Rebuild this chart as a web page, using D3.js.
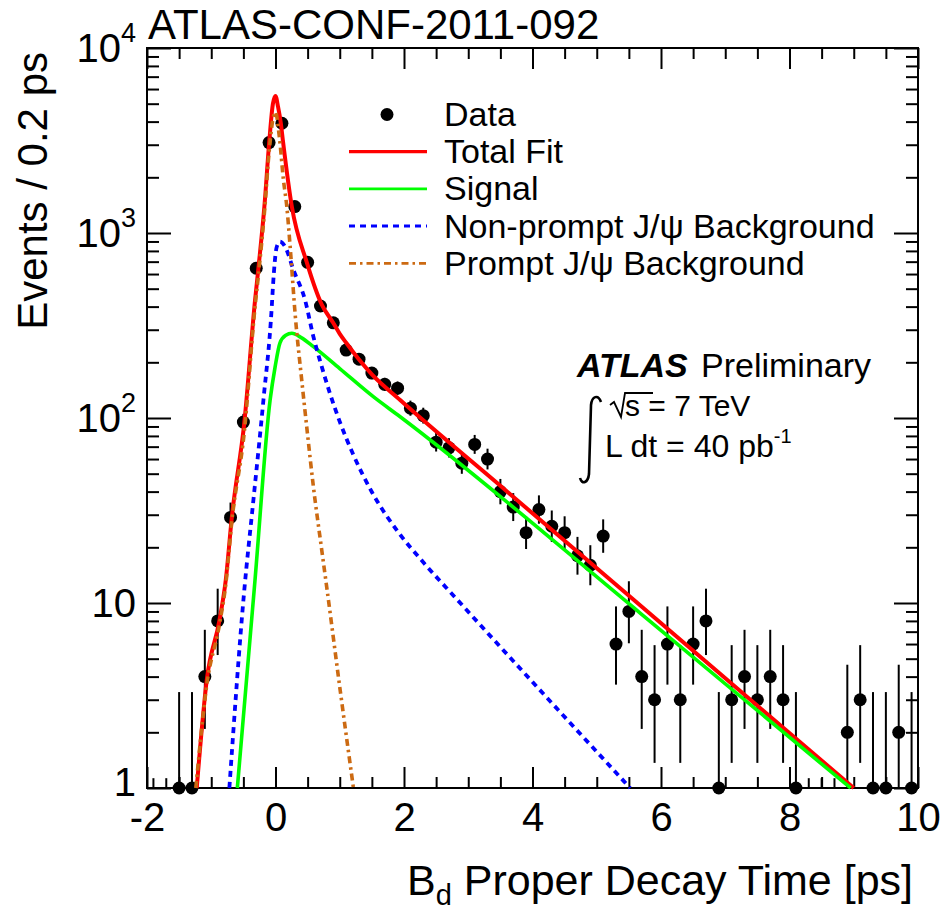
<!DOCTYPE html>
<html>
<head>
<meta charset="utf-8">
<script src="https://cdn.jsdelivr.net/npm/d3@7"></script>
<style>
  body { margin: 0; background: #fff; }
  svg { display: block; }
  text { font-family: "Liberation Sans", Arial, Helvetica, sans-serif; fill: #000; }
</style>
</head>
<body>
<svg id="chart" width="947" height="915"></svg>
<script>
// ---- Data: B_d proper decay time, events per 0.2 ps bin ----
const binCenters = [-1.5, -1.3, -1.1, -0.9, -0.7, -0.5, -0.3, -0.1, 0.1, 0.3, 0.5, 0.7, 0.9, 1.1, 1.3, 1.5, 1.7, 1.9,
  2.1, 2.3, 2.5, 2.7, 2.9, 3.1, 3.3, 3.5, 3.7, 3.9, 4.1, 4.3, 4.5, 4.7, 4.9, 5.1, 5.3, 5.5, 5.7, 5.9,
  6.1, 6.3, 6.5, 6.7, 6.9, 7.1, 7.3, 7.5, 7.7, 7.9, 8.1, 8.9, 9.1, 9.3, 9.5, 9.7, 9.9];
const counts = [1, 1, 4, 8, 29, 95, 645, 3080, 3920, 1390, 694, 403, 327, 233, 208, 175, 152, 145,
  113, 103, 74, 69, 57, 72, 60, 40, 33, 24, 32, 26, 24, 18, 16, 23, 6, 9, 4, 3,
  6, 3, 6, 8, 1, 3, 4, 3, 4, 3, 1, 2, 3, 1, 1, 2, 1];
// empty bins only show a short error stub above the axis
const emptyBins = [-1.9, -1.7, 8.3, 8.5, 8.7];
const emptyStubTop = 1.13;

// ---- Fit curves (time in ps, events / 0.2 ps) ----
const totalFitT = [-1.226, -1.07, -0.874, -0.774, -0.68, -0.484, -0.318, -0.266, -0.173, -0.095, -0.04, 0.0, 0.04, 0.083, 0.114, 0.254, 0.487, 0.72, 0.9, 1.0, 1.1, 1.3, 1.5, 1.94, 3.5, 5.52, 9.0];
const totalFitV = [1, 3.84, 8.0, 13.3, 29, 95.5, 434, 645, 1390, 3184, 5000, 5505, 4800, 3917, 3184, 1390, 694, 410, 326, 285, 255, 207, 172, 125, 43, 10.8, 1];

const signalT = [-0.594, -0.319, -0.084, -0.006, 0.07, 0.16, 0.254, 0.4, 0.59, 1.0, 1.527, 1.94, 5.68, 8.95];
const signalV = [1, 13.3, 125, 189, 255, 280, 287, 272, 243, 185, 130, 101.6, 8.8, 1];

const nonPromptT = [-0.718, -0.49, -0.344, -0.188, -0.058, -0.04, 0.02, 0.07, 0.15, 0.28, 0.46, 0.59, 0.7, 0.85, 1.0, 1.2, 1.5, 1.94, 2.3, 2.82, 5.52];
const nonPromptV = [1, 11.3, 36, 125, 400, 512, 843, 898, 843, 631, 434, 275, 200, 135, 95.5, 64.6, 39.8, 23.4, 16.6, 10.5, 1];

const promptT = [-1.24, -1.07, -0.874, -0.774, -0.68, -0.484, -0.318, -0.266, -0.173, -0.095, -0.03, 0.0, 0.06, 0.124, 0.176, 0.228, 0.306, 0.41, 0.49, 0.59, 0.72, 0.81, 1.006, 1.213];
const promptV = [1, 3.6, 7.6, 12.6, 27.5, 85, 400, 590, 1280, 2850, 4300, 4500, 3300, 1933, 1390, 843, 363, 158, 87, 42.5, 19.3, 11.3, 3.39, 1];

// ---- Axis ticks ----
const xMajorTicks = [-2, 0, 2, 4, 6, 8, 10];
const xMinorTicks = [-1.5, -1, -0.5, 0.5, 1, 1.5, 2.5, 3, 3.5, 4.5, 5, 5.5, 6.5, 7, 7.5, 8.5, 9, 9.5];
const yMajorTicks = [1, 10, 100, 1000, 10000];
const yMinorMantissas = [2, 3, 4, 5, 6, 7, 8, 9];
const yTickExponents = [null, null, "2", "3", "4"];
const yTickBases = ["1", "10", "10", "10", "10"];

const legendLabels = ["Data", "Total Fit", "Signal", "Non-prompt J/\u03c8 Background", "Prompt J/\u03c8 Background"];

// 68.3% Poisson (Garwood) intervals for small counts
const poissonTable = [[0, 1.841], [0.173, 3.300], [0.708, 4.638], [1.367, 5.918], [2.086, 7.163],
  [2.840, 8.382], [3.620, 9.584], [4.419, 10.77], [5.232, 11.95], [6.057, 13.11], [6.891, 14.27]];
function poissonInterval(n) {
  if (n < poissonTable.length) return poissonTable[n];
  const s = Math.sqrt(n + 0.25);
  return [n + 0.5 - s, n + 0.5 + s];
}

// ---- Layout ----
const svg = d3.select("#chart");
const X0 = 147, X1 = 918, Y0 = 788, Y1 = 48;
const x = d3.scaleLinear().domain([-2, 10]).range([X0, X1]);
const y = d3.scaleLog().domain([1, 1e4]).range([Y0, Y1]);

const COL = { red: "#ff0000", green: "#00ff00", blue: "#0000ff", orange: "#cc6a12" };

function styleTicks(g) {
  g.select(".domain").remove();
  g.selectAll("line").attr("stroke", "#000").attr("stroke-width", 2);
  return g;
}

// bottom axis with labels
const gxb = svg.append("g").attr("transform", `translate(0,${Y0})`)
  .call(d3.axisBottom(x).tickValues(xMajorTicks).tickSizeInner(-21).tickSizeOuter(0).tickPadding(15).tickFormat(d => String(d)));
styleTicks(gxb);
gxb.selectAll("text").attr("font-size", 40).attr("font-family", "Liberation Sans, Arial, sans-serif").attr("fill", "#000");
styleTicks(svg.append("g").attr("transform", `translate(0,${Y0})`)
  .call(d3.axisBottom(x).tickValues(xMinorTicks).tickSizeInner(-11).tickSizeOuter(0).tickFormat("")));
// top axis (ticks only)
styleTicks(svg.append("g").attr("transform", `translate(0,${Y1})`)
  .call(d3.axisTop(x).tickValues(xMajorTicks).tickSizeInner(-21).tickSizeOuter(0).tickFormat("")));
styleTicks(svg.append("g").attr("transform", `translate(0,${Y1})`)
  .call(d3.axisTop(x).tickValues(xMinorTicks).tickSizeInner(-11).tickSizeOuter(0).tickFormat("")));

const yMinorTicks = yMajorTicks.slice(0, -1).flatMap(d => yMinorMantissas.map(m => m * d));
// left and right axes (ticks only)
styleTicks(svg.append("g").attr("transform", `translate(${X0},0)`)
  .call(d3.axisLeft(y).tickValues(yMajorTicks).tickSizeInner(-24).tickSizeOuter(0).tickFormat("")));
styleTicks(svg.append("g").attr("transform", `translate(${X0},0)`)
  .call(d3.axisLeft(y).tickValues(yMinorTicks).tickSizeInner(-12).tickSizeOuter(0).tickFormat("")));
styleTicks(svg.append("g").attr("transform", `translate(${X1},0)`)
  .call(d3.axisRight(y).tickValues(yMajorTicks).tickSizeInner(-24).tickSizeOuter(0).tickFormat("")));
styleTicks(svg.append("g").attr("transform", `translate(${X1},0)`)
  .call(d3.axisRight(y).tickValues(yMinorTicks).tickSizeInner(-12).tickSizeOuter(0).tickFormat("")));

// y tick labels with exponents (the bottom "1" sits a little higher, clear of the x labels)
yMajorTicks.forEach((v, i) => {
  const t = svg.append("text").attr("x", 136).attr("y", y(v) + (i === 0 ? 8 : 14))
    .attr("text-anchor", "end").attr("font-size", 40);
  t.append("tspan").text(yTickBases[i]);
  if (yTickExponents[i]) {
    t.append("tspan").attr("font-size", 27).attr("dy", -20).text(yTickExponents[i]);
  }
});

// frame
svg.append("rect").attr("x", X0).attr("y", Y1).attr("width", X1 - X0).attr("height", Y0 - Y1)
  .attr("fill", "none").attr("stroke", "#000").attr("stroke-width", 2);

// ---- Data points with Poisson error bars ----
const points = binCenters.map((c, i) => ({ c, n: counts[i], iv: poissonInterval(counts[i]) }));
const gData = svg.append("g");
gData.selectAll("line.err").data(points).join("line").attr("class", "err")
  .attr("x1", d => x(d.c)).attr("x2", d => x(d.c))
  .attr("y1", d => y(Math.max(1, d.iv[0]))).attr("y2", d => y(d.iv[1]))
  .attr("stroke", "#000").attr("stroke-width", 2);
gData.selectAll("line.empty").data(emptyBins).join("line").attr("class", "empty")
  .attr("x1", d => x(d)).attr("x2", d => x(d))
  .attr("y1", y(1)).attr("y2", y(emptyStubTop))
  .attr("stroke", "#000").attr("stroke-width", 2);
gData.selectAll("circle").data(points).join("circle")
  .attr("cx", d => x(d.c)).attr("cy", d => y(d.n)).attr("r", 6.5).attr("fill", "#000");

// ---- Fit curves ----
const line = d3.line().x(d => x(d[0])).y(d => y(d[1])).curve(d3.curveMonotoneX);
const zip = (a, b) => a.map((v, i) => [v, b[i]]);
const curves = [
  { pts: zip(totalFitT, totalFitV), color: COL.red, width: 4, dash: null },
  { pts: zip(signalT, signalV), color: COL.green, width: 3.6, dash: null },
  { pts: zip(nonPromptT, nonPromptV), color: COL.blue, width: 3.8, dash: "6,5" },
  { pts: zip(promptT, promptV), color: COL.orange, width: 3.6, dash: "7,4,2.5,4" }
];
curves.forEach(c => {
  svg.append("path").attr("d", line(c.pts)).attr("fill", "none")
    .attr("stroke", c.color).attr("stroke-width", c.width)
    .attr("stroke-dasharray", c.dash);
});

// ---- Legend ----
const legend = svg.append("g");
legendLabels.forEach((lab, i) => {
  const base = 126 + i * 37.2;
  const cy = base - 11.5;
  if (i === 0) {
    legend.append("circle").attr("cx", 387).attr("cy", cy).attr("r", 6.5).attr("fill", "#000");
  } else {
    const c = curves[i - 1];
    legend.append("line").attr("x1", 349).attr("x2", 427).attr("y1", cy).attr("y2", cy)
      .attr("stroke", c.color).attr("stroke-width", c.width - 0.8).attr("stroke-dasharray", c.dash);
  }
  legend.append("text").attr("x", 444).attr("y", base).attr("font-size", 34).text(lab);
});

// ---- Annotations ----
svg.append("text").attr("x", 148).attr("y", 39).attr("font-size", 42).text("ATLAS-CONF-2011-092");

svg.append("text").attr("x", 577).attr("y", 377).attr("font-size", 34)
  .attr("font-weight", "bold").attr("font-style", "italic").text("ATLAS");
svg.append("text").attr("x", 701).attr("y", 377).attr("font-size", 34).text("Preliminary");

// sqrt(s) line
svg.append("path").attr("d", "M610,405 L614,402 L621,417 L625,393 L653,393")
  .attr("fill", "none").attr("stroke", "#000").attr("stroke-width", 1.8);
svg.append("text").attr("x", 625).attr("y", 416).attr("font-size", 30).text("s = 7 TeV");
// integrated luminosity line
svg.append("path").attr("d", "M601,402 C598,394 592,396 591,405 L589,474 C588,483 582,485 580,478")
  .attr("fill", "none").attr("stroke", "#000").attr("stroke-width", 2.6);
const lumi = svg.append("text").attr("x", 605).attr("y", 457).attr("font-size", 32);
lumi.append("tspan").text("L dt = 40 pb");
lumi.append("tspan").attr("font-size", 20).attr("dy", -14).text("-1");

// axis titles
svg.append("text").attr("transform", "translate(47,52) rotate(-90)")
  .attr("text-anchor", "end").attr("font-size", 42).text("Events / 0.2 ps");
const xt = svg.append("text").attr("x", 913).attr("y", 895).attr("text-anchor", "end").attr("font-size", 43);
xt.append("tspan").text("B");
xt.append("tspan").attr("font-size", 29).attr("dy", 10).text("d");
xt.append("tspan").attr("dy", -10).text(" Proper Decay Time [ps]");
</script>
</body>
</html>
